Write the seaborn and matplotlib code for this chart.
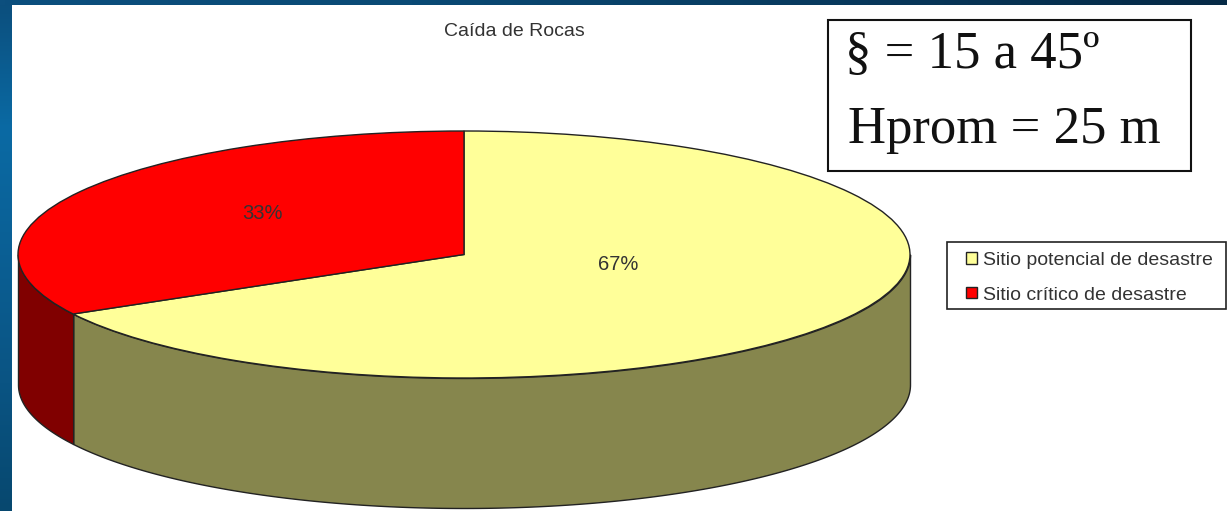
"""Caída de Rocas: pseudo 3D pie chart with legend and note box."""

import matplotlib

matplotlib.use("Agg")

import matplotlib.pyplot as plt  # noqa: E402
import numpy as np  # noqa: E402
import seaborn as sns  # noqa: E402
from matplotlib.colors import LinearSegmentedColormap  # noqa: E402
from matplotlib.patches import Rectangle  # noqa: E402

# Chart data
title = "Caída de Rocas"
labels = ["Sitio potencial de desastre", "Sitio crítico de desastre"]
values = [67, 33]
top_colors = ["#FFFF99", "#FF0000"]
side_colors = ["#86864D", "#800000"]
note_lines = ["§ = 15 a 45º", "Hprom = 25 m"]

# Banner colours of the slide behind the chart
left_band = ["#0C4E7C", "#0A6AA4", "#0B5F94", "#0A5483", "#07486F"]
top_band = ["#0C4F7E", "#0A4A75", "#083A5E", "#062A46"]

W, H = 1227, 511
CX, CY, RX, RY, DEPTH = 464, 254.5, 446, 123.5, 130

sns.set_theme(style="white")
plt.rcParams["font.family"] = ["Liberation Sans", "DejaVu Sans"]

fig = plt.figure(figsize=(W / 100, H / 100), dpi=100, facecolor="white")

# Pixel-space layer for the banner, the title and the note box
bg = fig.add_axes([0, 0, 1, 1])
bg.axis("off")
bg.imshow(
    np.linspace(0, 1, 256).reshape(-1, 1),
    cmap=LinearSegmentedColormap.from_list("left", left_band),
    extent=(0, 12, H, 0),
    aspect="auto",
)
bg.imshow(
    np.linspace(0, 1, 256).reshape(1, -1),
    cmap=LinearSegmentedColormap.from_list("top", top_band),
    extent=(0, W, 5, 0),
    aspect="auto",
)
bg.set_xlim(0, W)
bg.set_ylim(H, 0)

bg.text(514, 32, title, ha="center", va="center", fontsize=14, color="#333333")

bg.add_patch(Rectangle((828, 20), 363, 151, fc="white", ec="#111111", lw=1.5))
for line, x, y in zip(note_lines, [845, 848], [68, 143]):
    bg.text(x, y, line, ha="left", va="baseline", fontsize=38,
            family="Liberation Serif", color="#111111")

# Legend frame is wider than its contents in the original
bg.add_patch(Rectangle((947, 242), 279, 67, fc="white", ec="#222222", lw=1.2))

# Pie layer: full figure, one radius = RX horizontally and RY vertically
ax = fig.add_axes([0, 0, 1, 1], facecolor="none")
wedges, _, pct_texts = ax.pie(
    values,
    colors=top_colors,
    startangle=90,
    counterclock=False,
    radius=1,
    autopct="%d%%",
    wedgeprops={"edgecolor": "#222222", "linewidth": 1.0, "zorder": 3},
    textprops={"fontsize": 14.5, "color": "#333333", "zorder": 4},
)
ax.set_aspect("auto")
ax.set_xlim(-CX / RX, (W - CX) / RX)
ax.set_ylim((CY - H) / RY, CY / RY)
ax.axis("off")

# Percent labels sit off-centre in the original
for text, (px, py) in zip(pct_texts, [(618, 264), (262, 213)]):
    text.set_position(((px - CX) / RX, (CY - py) / RY))

# Side walls: only the front half of the rim is visible
depth = DEPTH / RY
boundary = 90 - 360 * values[0] / sum(values) + 360
spans = [(boundary, 360), (180, boundary)]
for (start, end), color in zip(spans, side_colors):
    theta = np.radians(np.linspace(start, end, 200))
    ax.fill_between(
        np.cos(theta),
        np.sin(theta),
        np.sin(theta) - depth,
        facecolor=color,
        edgecolor="#222222",
        linewidth=1.0,
        zorder=2,
    )

# Legend
ax.legend(
    wedges,
    labels,
    loc="upper left",
    bbox_to_anchor=(966 / W, 1 - 252 / H),
    bbox_transform=fig.transFigure,
    fontsize=14,
    frameon=False,
    borderpad=0,
    borderaxespad=0,
    handlelength=0.55,
    handleheight=0.55,
    handletextpad=0.3,
    labelspacing=0.9,
    labelcolor="#333333",
)

fig.savefig("out.png", dpi=100)
plt.close(fig)
